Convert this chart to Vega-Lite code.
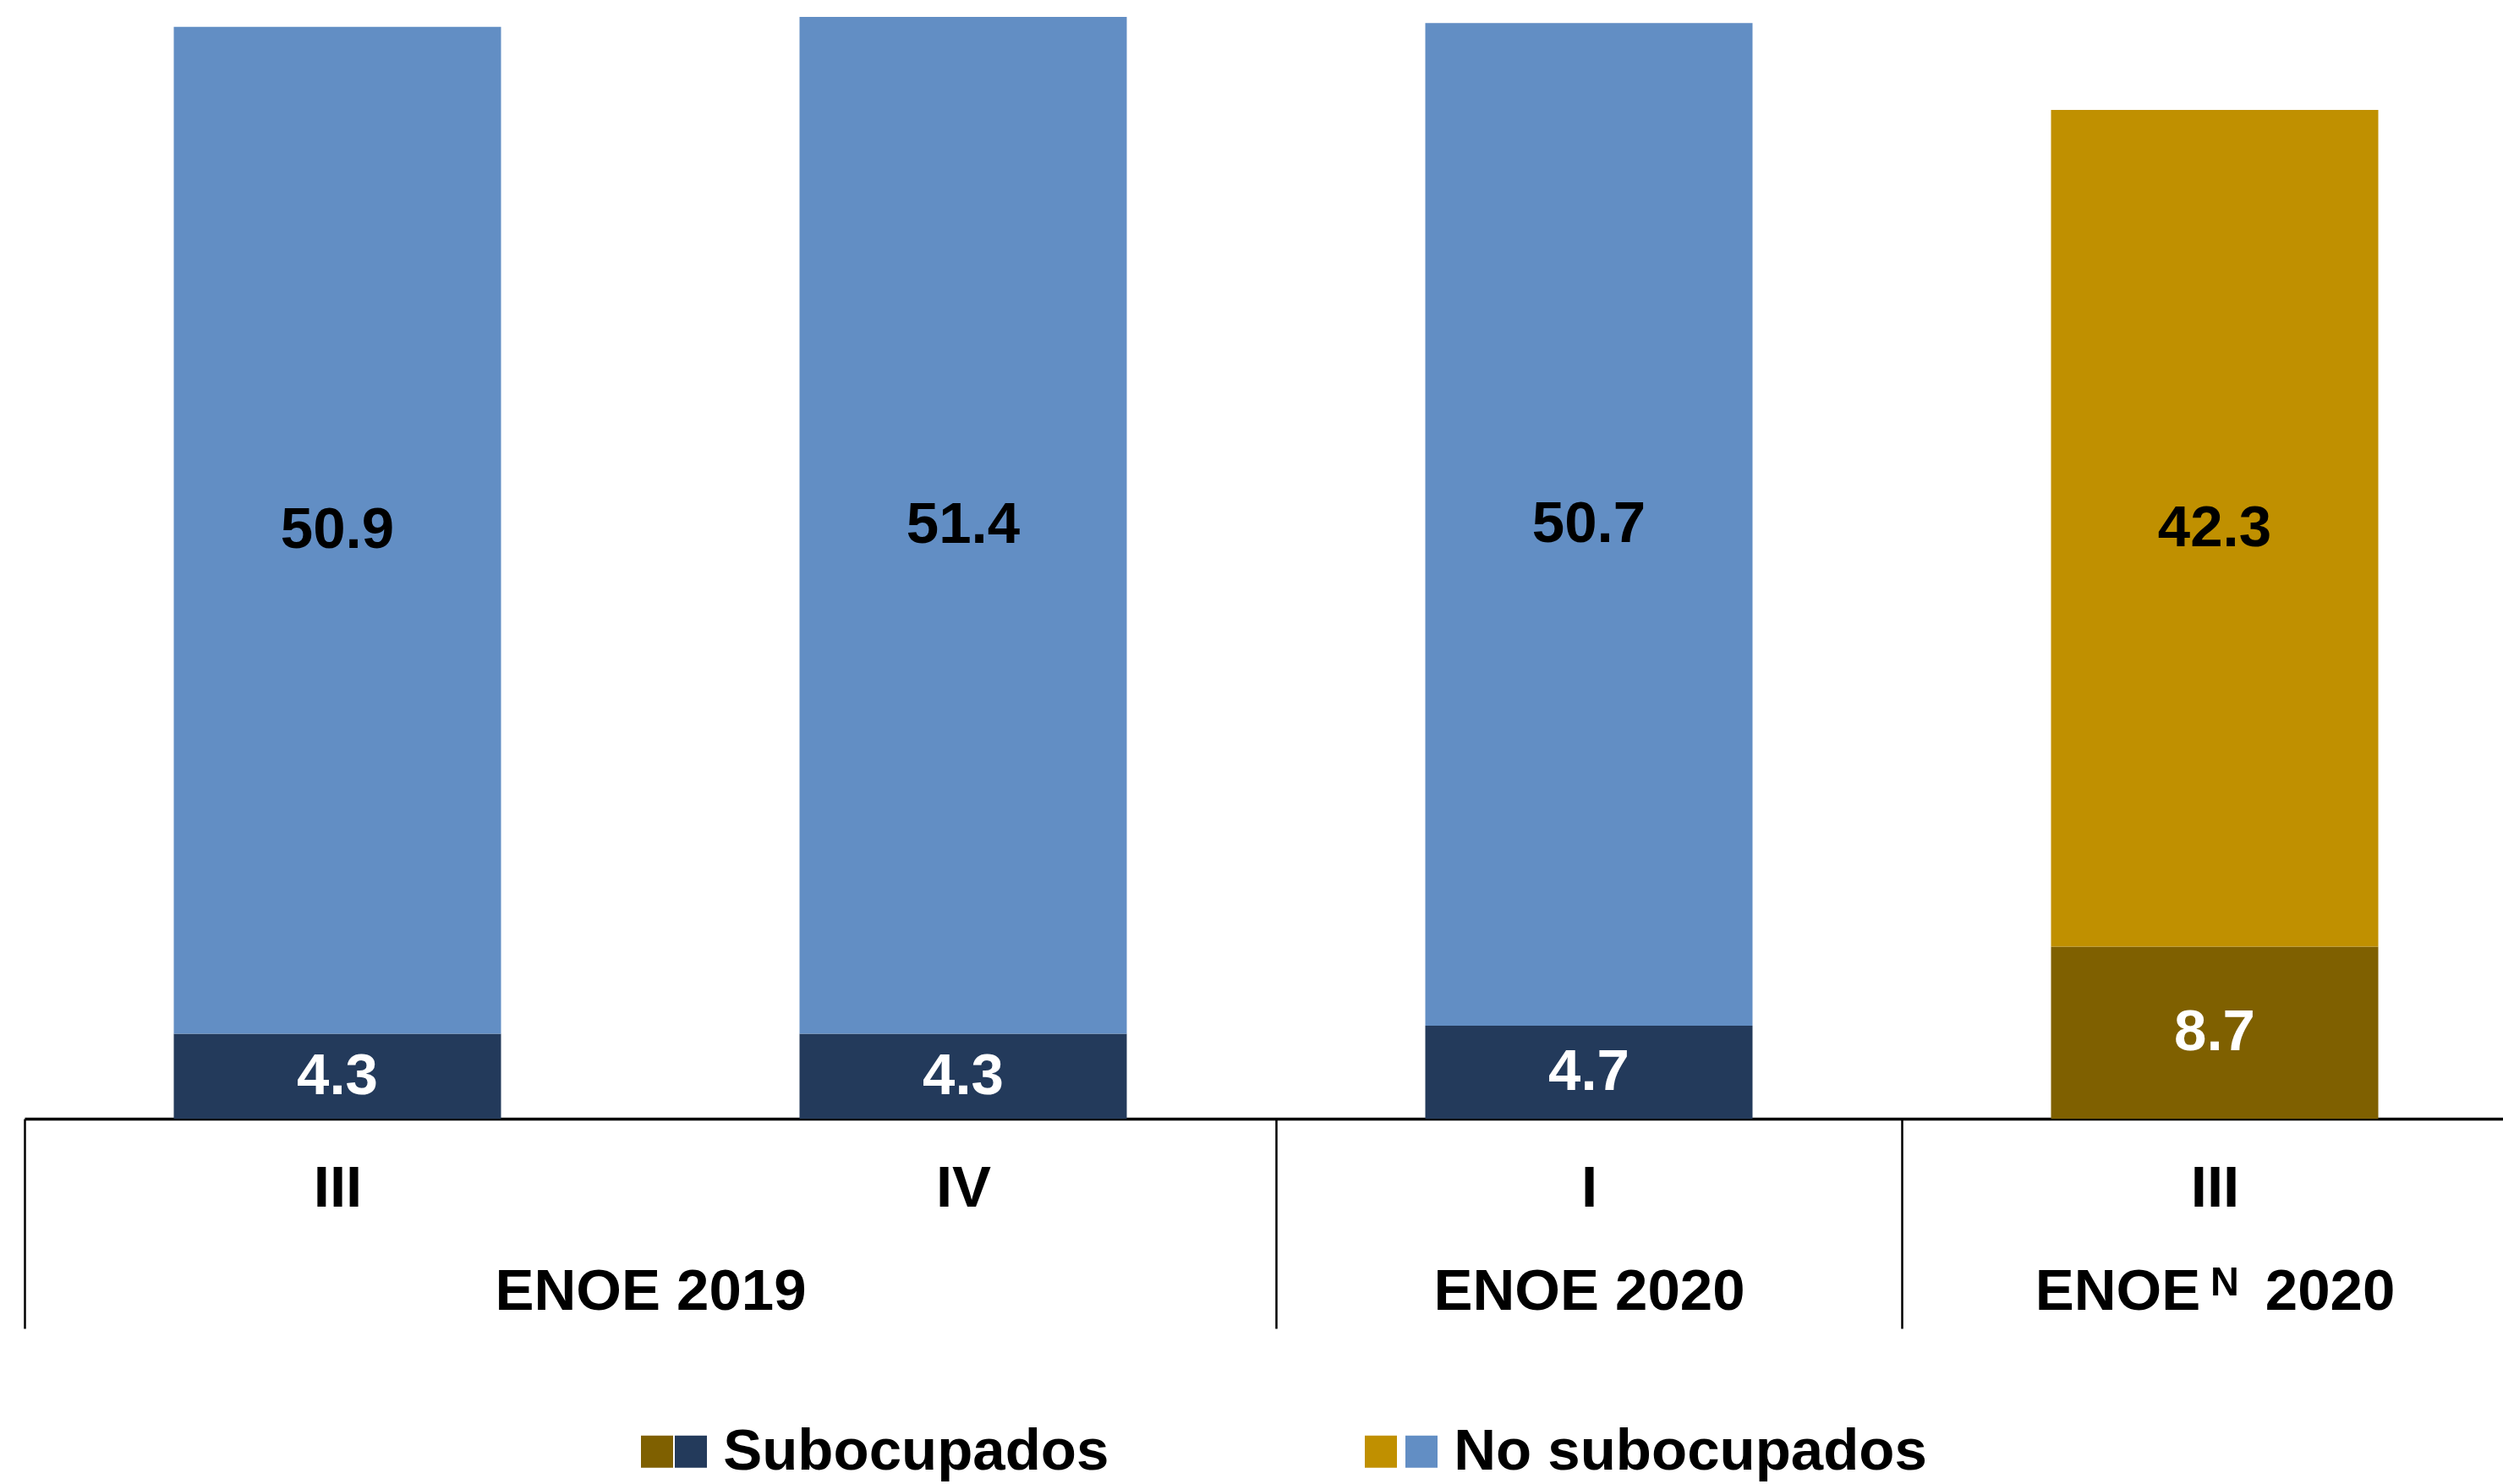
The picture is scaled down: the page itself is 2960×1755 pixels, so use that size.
{
  "$schema": "https://vega.github.io/schema/vega-lite/v6.json",
  "width": 2931,
  "height": 1323,
  "autosize": {"type": "none"},
  "padding": {"left": 29, "top": 0, "right": 0, "bottom": 432},
  "background": "white",
  "config": {"view": {"stroke": null}},
  "data": {
    "values": [
      {"periodo": 0, "trimestre": "III", "encuesta": "ENOE 2019", "serie": "Subocupados", "clave": "Subocupados", "valor": 4.3},
      {"periodo": 0, "trimestre": "III", "encuesta": "ENOE 2019", "serie": "No subocupados", "clave": "No subocupados", "valor": 50.9},
      {"periodo": 1, "trimestre": "IV", "encuesta": "ENOE 2019", "serie": "Subocupados", "clave": "Subocupados", "valor": 4.3},
      {"periodo": 1, "trimestre": "IV", "encuesta": "ENOE 2019", "serie": "No subocupados", "clave": "No subocupados", "valor": 51.4},
      {"periodo": 2, "trimestre": "I", "encuesta": "ENOE 2020", "serie": "Subocupados", "clave": "Subocupados", "valor": 4.7},
      {"periodo": 2, "trimestre": "I", "encuesta": "ENOE 2020", "serie": "No subocupados", "clave": "No subocupados", "valor": 50.7},
      {"periodo": 3, "trimestre": "III", "encuesta": "ENOE N 2020", "serie": "Subocupados", "clave": "Subocupados N", "valor": 8.7},
      {"periodo": 3, "trimestre": "III", "encuesta": "ENOE N 2020", "serie": "No subocupados", "clave": "No subocupados N", "valor": 42.3}
    ]
  },
  "resolve": {"axis": {"x": "independent"}, "scale": {"color": "independent"}},
  "layer": [
    {
      "mark": {"type": "bar", "width": 387},
      "encoding": {
        "x": {
          "field": "periodo",
          "type": "quantitative",
          "scale": {"domain": [-0.5, 3.4608], "nice": false, "zero": false, "padding": 0},
          "axis": {
            "orient": "bottom",
            "title": null,
            "grid": false,
            "values": [-0.5, 0.5, 1.5, 2, 2.5, 3],
            "domain": true,
            "domainColor": "black",
            "domainWidth": 3.5,
            "ticks": true,
            "tickSize": 248,
            "tickWidth": 2.5,
            "tickColor": "black",
            "tickOpacity": {"condition": {"test": "datum.value == -0.5 || datum.value == 1.5 || datum.value == 2.5", "value": 1}, "value": 0},
            "labelExpr": "datum.value == 0.5 ? 'ENOE 2019' : (datum.value == 2 ? 'ENOE 2020' : (datum.value == 3 ? 'ENOE\u2009ᴺ\u2009 2020' : ''))",
            "labelFont": "Liberation Sans",
            "labelFontSize": 69,
            "labelFontWeight": "bold",
            "labelColor": "black",
            "labelBaseline": "middle",
            "labelPadding": -44,
            "labelOverlap": false,
            "labelBound": false,
            "labelFlush": false,
            "labelLimit": 2000
          }
        },
        "y": {
          "field": "valor",
          "type": "quantitative",
          "stack": "zero",
          "scale": {"domain": [0, 56.56], "nice": false},
          "axis": null
        },
        "color": {
          "field": "clave",
          "type": "nominal",
          "scale": {
            "domain": ["Subocupados N", "Subocupados", "No subocupados N", "No subocupados"],
            "range": ["#7F6000", "#233A5B", "#C09000", "#628EC4"]
          },
          "legend": {
            "orient": "none",
            "legendX": 729,
            "legendY": 1682,
            "direction": "horizontal",
            "columns": 2,
            "values": ["Subocupados N", "Subocupados"],
            "title": null,
            "padding": 0,
            "symbolType": "square",
            "symbolSize": 1444,
            "symbolStrokeWidth": 0,
            "symbolOffset": -15.5,
            "labelOffset": -15.5,
            "columnPadding": 2,
            "labelFont": "Liberation Sans",
            "labelFontSize": 69,
            "labelFontWeight": "bold",
            "labelColor": "black",
            "labelLimit": 3000,
            "labelExpr": "datum.label == 'Subocupados' ? '\u200b\u00a0Subocupados' : ''"
          }
        },
        "order": {"field": "serie", "sort": "descending"}
      }
    },
    {
      "mark": {"type": "bar", "width": 387, "opacity": 0},
      "encoding": {
        "x": {"field": "periodo", "type": "quantitative", "axis": null},
        "y": {"field": "valor", "type": "quantitative", "stack": "zero"},
        "color": {
          "field": "clave",
          "type": "nominal",
          "scale": {
            "domain": ["Subocupados N", "Subocupados", "No subocupados N", "No subocupados"],
            "range": ["#7F6000", "#233A5B", "#C09000", "#628EC4"]
          },
          "legend": {
            "orient": "none",
            "legendX": 1585,
            "legendY": 1682,
            "direction": "horizontal",
            "columns": 2,
            "values": ["No subocupados N", "No subocupados"],
            "title": null,
            "padding": 0,
            "symbolType": "square",
            "symbolSize": 1444,
            "symbolStrokeWidth": 0,
            "symbolOffset": -15.5,
            "symbolOpacity": 1,
            "labelOffset": -15.5,
            "columnPadding": 10,
            "labelFont": "Liberation Sans",
            "labelFontSize": 69,
            "labelFontWeight": "bold",
            "labelColor": "black",
            "labelLimit": 3000,
            "labelExpr": "datum.label == 'No subocupados' ? '\u200b\u00a0No subocupados' : ''"
          }
        },
        "order": {"field": "serie", "sort": "descending"}
      }
    },
    {
      "mark": {"type": "text", "font": "Liberation Sans", "fontSize": 69, "fontWeight": "bold", "align": "center", "baseline": "middle"},
      "encoding": {
        "x": {
          "field": "periodo",
          "type": "quantitative",
          "axis": {
            "orient": "bottom",
            "title": null,
            "grid": false,
            "values": [0, 1, 2, 3],
            "domain": false,
            "ticks": false,
            "tickSize": 0,
            "labelExpr": "['III', 'IV', 'I', 'III'][datum.value]",
            "labelFont": "Liberation Sans",
            "labelFontSize": 69,
            "labelFontWeight": "bold",
            "labelColor": "black",
            "labelBaseline": "middle",
            "labelPadding": 82,
            "labelOverlap": false,
            "labelBound": false,
            "labelFlush": false
          }
        },
        "y": {
          "field": "valor",
          "type": "quantitative",
          "stack": "zero",
          "bandPosition": 0.5
        },
        "detail": {"field": "serie"},
        "order": {"field": "serie", "sort": "descending"},
        "text": {"field": "valor", "type": "quantitative", "format": ".1f"},
        "color": {"condition": {"test": "datum.serie == 'Subocupados'", "value": "white"}, "value": "black"}
      }
    }
  ]
}
